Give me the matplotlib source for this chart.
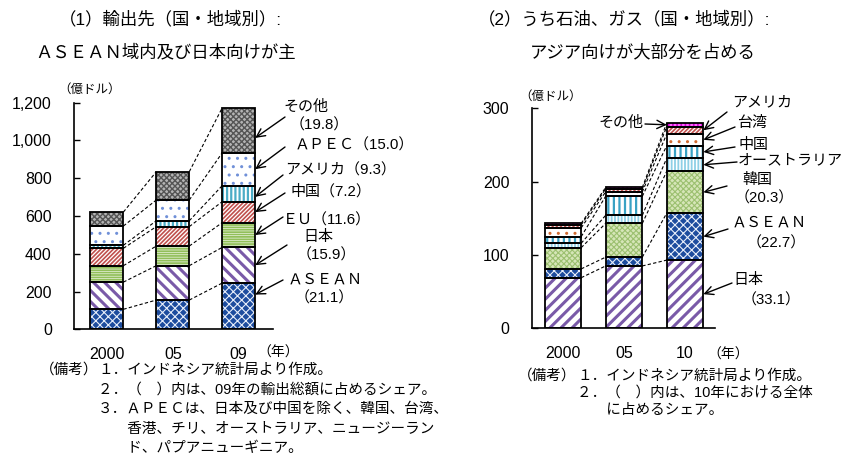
import matplotlib
matplotlib.use('Agg')
import matplotlib.pyplot as plt

plt.rcParams['font.family'] = ['Liberation Sans', 'Noto Sans CJK JP']
plt.rcParams['hatch.linewidth'] = 1.3

W, H = 856, 473

# (1) exports by destination (100 million USD)
years1 = ['2000', '05', '09']
asean1 = [106, 155, 245]
japan1 = [144, 182, 189]
eu1 = [87, 104, 131]
china1 = [92, 103, 111]
usa1 = [16, 31, 85]
apec1 = [102, 110, 174]
other1 = [74, 150, 238]

# (2) of which oil and gas (100 million USD)
years2 = ['2000', '05', '10']
japan2 = [69, 85, 93]
asean2 = [12, 12, 64]
korea2 = [29, 46, 57]
australia2 = [6, 11, 18]
china2 = [9, 26, 17]
taiwan2 = [12, 6, 16]
usa2 = [4, 4, 10]
other2 = [2, 2, 5]

# fill colour, hatch colour, hatch pattern, hatch line width
ASEAN_STYLE = ('#1d4c9e', '#e8eefa', 'xxxx', 0.8)
style1 = [ASEAN_STYLE,
          ('white', '#7a5aa8', '\\\\\\', 2.2),
          ('white', '#92bf5a', '-------', 1.3),
          ('white', '#c0504d', '////////', 1.2),
          ('white', '#4bacc6', '||||', 1.6),
          ('white', '#7090d8', '..', 1.0),
          ('#b4b4b4', '#555555', 'xxxxxx', 1.0)]
style2 = [('white', '#7a5aa8', '///', 2.2),
          ASEAN_STYLE,
          ('#d6e6b8', '#9cc070', 'xxxxxx', 0.8),
          ('white', '#8fd0e6', '|||||', 1.3),
          ('white', '#3aa2c4', '|||', 1.6),
          ('white', '#d06a30', '..', 1.0),
          ('white', '#c0504d', '////////', 1.2),
          ('#ff66ff', '#d000d0', '||||', 1.2)]


def fx(px):
    return px / W


def fy(py):
    return 1 - py / H


def draw_stack(ax, series, styles, width):
    x = range(len(series[0]))
    bottoms = [0] * len(series[0])
    tops = []
    for vals, (face, hcol, hatch, hlw) in zip(series, styles):
        with plt.rc_context({'hatch.linewidth': hlw}):
            bars = ax.bar(x, vals, width, bottom=bottoms, color=face, edgecolor=hcol,
                          hatch=hatch, linewidth=0, zorder=2)
        for b in bars:
            if hasattr(b, 'set_hatch_linewidth'):
                b.set_hatch_linewidth(hlw)
        ax.bar(x, vals, width, bottom=bottoms, fill=False, edgecolor='black',
               linewidth=1.3, zorder=3)
        bottoms = [b + v for b, v in zip(bottoms, vals)]
        tops.append(list(bottoms))
    # dashed lines joining the segment tops
    for lev in tops:
        for i in range(len(lev) - 1):
            ax.plot([i + width / 2, i + 1 - width / 2], [lev[i], lev[i + 1]],
                    color='black', lw=0.8, dashes=(3, 2), zorder=1)
    return tops


def style_axis(ax, ylim, yticks, labels, xlabels):
    ax.set_ylim(*ylim)
    ax.set_yticks(yticks)
    ax.set_yticklabels(labels)
    ax.set_xticks(range(len(xlabels)))
    ax.set_xticklabels(xlabels)
    ax.spines['top'].set_visible(False)
    ax.spines['right'].set_visible(False)
    ax.spines['left'].set_linewidth(1.2)
    ax.spines['bottom'].set_linewidth(1.2)
    ax.tick_params(axis='y', direction='in', length=4, width=1, pad=16, labelsize=11.5)
    ax.tick_params(axis='x', length=0, pad=13, labelsize=11.5)


def arrow(ax, xy, start):
    ax.annotate('', xy=xy, xycoords='data', xytext=(fx(start[0]), fy(start[1])),
                textcoords='figure fraction', annotation_clip=False,
                arrowprops=dict(arrowstyle='->,head_length=0.6,head_width=0.3',
                                color='black', lw=1.0, shrinkA=0, shrinkB=0))


fig = plt.figure(figsize=(W / 100, H / 100), dpi=100)


def ftext(x, y, s, size=10.8, ha='left'):
    fig.text(fx(x), fy(y), s, fontsize=size, ha=ha, va='center')


# ---- left chart ----
ax1 = fig.add_axes([fx(74), fy(329.3), (273 - 74) / W, 226.6 / H])
s1 = [asean1, japan1, eu1, china1, usa1, apec1, other1]
w1 = 0.5
tops1 = draw_stack(ax1, s1, style1, w1)
ax1.set_xlim(-0.5, 2.52)
style_axis(ax1, (0, 1200), range(0, 1201, 200),
           ['{:,}'.format(v) for v in range(0, 1201, 200)], years1)

# labels on 09 bar: text lines, arrow start, position inside segment
lab1 = [
    [('ＡＳＥＡＮ', 288, 280), ('（21.1）', 295, 298)],
    [('日本', 303, 237), ('（15.9）', 297, 255)],
    [('ＥＵ（11.6）', 283, 220)],
    [('中国（7.2）', 290, 191)],
    [('アメリカ（9.3）', 285, 170)],
    [('ＡＰＥＣ（15.0）', 295, 145)],
    [('その他', 283, 107), ('（19.8）', 290, 125)],
]
starts1 = [(283, 280), (287, 245), (283, 217), (285, 193), (283, 175), (285, 147), (285, 117)]
frac1 = [0.75, 0.5, 0.5, 0.5, 0.3, 0.5, 0.33]
for k, vals in enumerate(s1):
    bottom = tops1[k][2] - vals[2]
    arrow(ax1, (2 + w1 / 2, bottom + frac1[k] * vals[2]), starts1[k])
    for s, x, y in lab1[k]:
        ftext(x, y, s)

# ---- right chart ----
ax2 = fig.add_axes([fx(531.7), fy(328.3), (715 - 531.7) / W, 220 / H])
s2 = [japan2, asean2, korea2, australia2, china2, taiwan2, usa2, other2]
w2 = 0.6
tops2 = draw_stack(ax2, s2, style2, w2)
ax2.set_xlim(-0.51, 2.49)
style_axis(ax2, (0, 300), range(0, 301, 100),
           [str(v) for v in range(0, 301, 100)], years2)

lab2 = [
    [('日本', 733, 280), ('（33.1）', 742, 300)],
    [('ＡＳＥＡＮ', 732, 223), ('（22.7）', 747, 243)],
    [('韓国', 742, 180), ('（20.3）', 735, 198)],
    [('オーストラリア', 738, 160)],
    [('中国', 738, 145)],
    [('台湾', 737, 123)],
    [('アメリカ', 732, 102)],
]
starts2 = [(732, 283), (728, 229), (727, 186), (737, 162), (735, 147), (735, 127), (727, 112)]
for k in range(7):
    vals = s2[k]
    mid = tops2[k][2] - vals[2] / 2
    arrow(ax2, (2 + w2 / 2, mid), starts2[k])
    for s, x, y in lab2[k]:
        ftext(x, y, s)
arrow(ax2, (2 - w2 / 2, tops2[7][2] - other2[2] / 2), (645, 124))
ftext(598, 123, 'その他')

# ---- titles, units, notes ----
ftext(170, 19, '（1）輸出先（国・地域別）:', size=12.5, ha='center')
ftext(166, 52, 'ＡＳＥＡＮ域内及び日本向けが主', size=12.5, ha='center')
ftext(624, 19, '（2）うち石油、ガス（国・地域別）:', size=12.5, ha='center')
ftext(643, 52, 'アジア向けが大部分を占める', size=12.5, ha='center')

ftext(90, 90, '（億ドル）', size=9, ha='center')
ftext(551, 97, '（億ドル）', size=9, ha='center')
ftext(278, 353, '（年）', size=10, ha='center')
ftext(728, 355, '（年）', size=10, ha='center')

notes1 = ['１．インドネシア統計局より作成。',
          '２．（　）内は、09年の輸出総額に占めるシェア。',
          '３．ＡＰＥＣは、日本及び中国を除く、韓国、台湾、',
          '　　香港、チリ、オーストラリア、ニュージーラン',
          '　　ド、パプアニューギニア。']
ftext(40, 370, '（備考）', size=10.5)
for i, s in enumerate(notes1):
    ftext(98, 370 + 19.5 * i, s, size=10.5)

notes2 = ['１．インドネシア統計局より作成。',
          '２．（　）内は、10年における全体',
          '　　に占めるシェア。']
ftext(518, 376, '（備考）', size=10.5)
for i, s in enumerate(notes2):
    ftext(577, 376 + 17 * i, s, size=10.5)

fig.savefig('out.png', dpi=100)
